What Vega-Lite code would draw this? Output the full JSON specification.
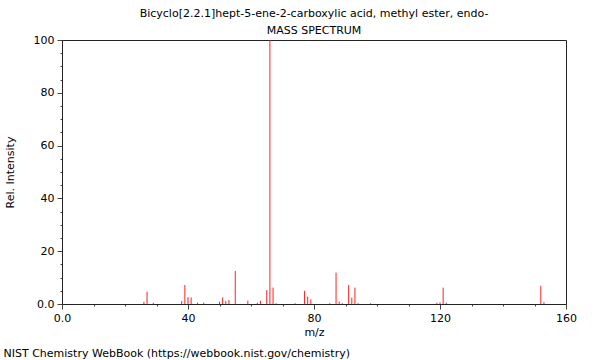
{
  "$schema": "https://vega.github.io/schema/vega-lite/v6.json",
  "width": 504,
  "height": 264,
  "autosize": "none",
  "padding": {"left": 62, "top": 40, "right": 34, "bottom": 56},
  "background": "white",
  "config": {
    "font": "DejaVu Sans",
    "view": {"stroke": "#222", "strokeWidth": 1},
    "axis": {
      "grid": false,
      "domainColor": "#222",
      "tickColor": "#444",
      "labelColor": "black",
      "titleColor": "black",
      "labelFontSize": 11,
      "titleFontSize": 11,
      "titleFontWeight": "normal",
      "labelOverlap": false,
      "labelFlush": false
    }
  },
  "title": {
    "text": ["Bicyclo[2.2.1]hept-5-ene-2-carboxylic acid, methyl ester, endo-", "MASS SPECTRUM"],
    "fontSize": 11,
    "fontWeight": "normal",
    "anchor": "middle",
    "frame": "group",
    "lineHeight": 17,
    "offset": -2,
    "color": "black"
  },
  "data": {
    "values": [
      {"mz": 26, "intensity": 0.8},
      {"mz": 27, "intensity": 4.7},
      {"mz": 29, "intensity": 0.5},
      {"mz": 38, "intensity": 1.1},
      {"mz": 39, "intensity": 7.2},
      {"mz": 40, "intensity": 2.6},
      {"mz": 41, "intensity": 2.5},
      {"mz": 43, "intensity": 0.5},
      {"mz": 45, "intensity": 0.5},
      {"mz": 50, "intensity": 0.9},
      {"mz": 51, "intensity": 2.5},
      {"mz": 52, "intensity": 1.1},
      {"mz": 53, "intensity": 1.5},
      {"mz": 55, "intensity": 12.5},
      {"mz": 59, "intensity": 1.3},
      {"mz": 62, "intensity": 0.5},
      {"mz": 63, "intensity": 1.2},
      {"mz": 65, "intensity": 5.3},
      {"mz": 66, "intensity": 100},
      {"mz": 67, "intensity": 6.2},
      {"mz": 68, "intensity": 0.3},
      {"mz": 74, "intensity": 0.3},
      {"mz": 77, "intensity": 5.0},
      {"mz": 78, "intensity": 2.8},
      {"mz": 79, "intensity": 1.8},
      {"mz": 85, "intensity": 0.3},
      {"mz": 87, "intensity": 11.9},
      {"mz": 88, "intensity": 0.9},
      {"mz": 89, "intensity": 0.3},
      {"mz": 91, "intensity": 7.2},
      {"mz": 92, "intensity": 2.4},
      {"mz": 93, "intensity": 6.2},
      {"mz": 94, "intensity": 0.3},
      {"mz": 98, "intensity": 0.3},
      {"mz": 119, "intensity": 0.5},
      {"mz": 120, "intensity": 0.6},
      {"mz": 121, "intensity": 6.2},
      {"mz": 122, "intensity": 0.5},
      {"mz": 152, "intensity": 6.9},
      {"mz": 153, "intensity": 0.7}
    ]
  },
  "resolve": {"axis": {"x": "independent"}},
  "layer": [
    {
      "mark": {"type": "rule", "color": "#ff2020", "strokeWidth": 1},
      "encoding": {
        "x": {
          "field": "mz",
          "type": "quantitative",
          "scale": {"domain": [0, 160], "nice": false, "zero": false},
          "axis": {
            "values": [0, 10, 20, 30, 40, 50, 60, 70, 80, 90, 100, 110, 120, 130, 140, 150, 160],
            "labelExpr": "datum.value % 40 === 0 ? (datum.value === 0 ? '0.0' : datum.label) : ''",
            "tickSize": {"condition": {"test": "datum.value % 40 === 0", "value": 5}, "value": 2},
            "labelPadding": 3,
            "title": "m/z",
            "titlePadding": 3
          }
        },
        "y": {
          "field": "intensity",
          "type": "quantitative",
          "scale": {"domain": [0, 100], "nice": false},
          "axis": {
            "values": [0, 5, 10, 15, 20, 25, 30, 35, 40, 45, 50, 55, 60, 65, 70, 75, 80, 85, 90, 95, 100],
            "labelExpr": "datum.value % 20 === 0 ? (datum.value === 0 ? '0.0' : datum.label) : ''",
            "tickSize": {"condition": {"test": "datum.value % 20 === 0", "value": 5}, "value": 2},
            "labelPadding": 3,
            "title": "Rel. Intensity",
            "titlePadding": 18
          }
        },
        "y2": {"datum": 0}
      }
    },
    {
      "mark": {"type": "rule", "opacity": 0},
      "encoding": {
        "x": {
          "field": "mz",
          "type": "quantitative",
          "axis": {
            "orient": "bottom",
            "domain": false,
            "ticks": false,
            "labels": false,
            "title": "NIST Chemistry WebBook (https://webbook.nist.gov/chemistry)",
            "titleX": -59,
            "titleY": 49,
            "titleAlign": "left",
            "titleBaseline": "middle",
            "titleAnchor": null
          }
        }
      }
    }
  ]
}
